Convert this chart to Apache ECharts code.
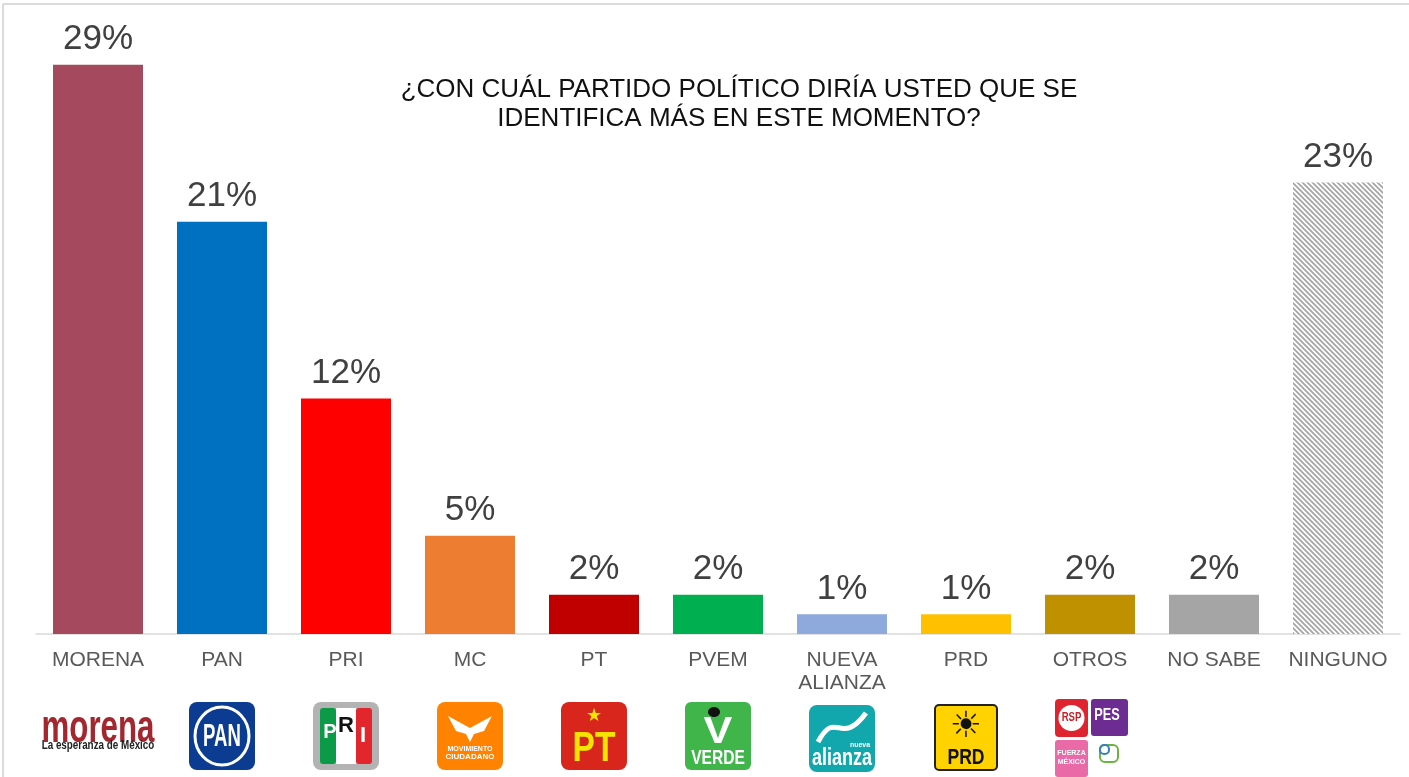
<!DOCTYPE html>
<html>
<head>
<meta charset="utf-8">
<script src="https://cdn.jsdelivr.net/npm/echarts@6/dist/echarts.min.js"></script>
<style>
  html, body { margin: 0; padding: 0; background: #fff; }
  #chart-container { width: 1409px; height: 777px; }
</style>
</head>
<body>
<div id="chart-container"></div>
<script>
// datos de la encuesta
const categories = ['MORENA', 'PAN', 'PRI', 'MC', 'PT', 'PVEM', 'NUEVA\nALIANZA', 'PRD', 'OTROS', 'NO SABE', 'NINGUNO'];
const values = [29, 21, 12, 5, 2, 2, 1, 1, 2, 2, 23];
const barColors = ['#A5495F', '#0070C0', '#FF0000', '#ED7D31', '#C00000', '#00B050', '#8EA9DB', '#FFC000', '#BF9000', '#A5A5A5', 'hatch'];
const titleText = '¿CON CUÁL PARTIDO POLÍTICO DIRÍA USTED QUE SE\nIDENTIFICA MÁS EN ESTE MOMENTO?';

const FONT = '"Liberation Sans", Arial, sans-serif';

// patrón rayado para NINGUNO
function hatchPattern() {
  const c = document.createElement('canvas');
  c.width = 5;
  c.height = 5;
  const ctx = c.getContext('2d');
  ctx.fillStyle = '#ffffff';
  ctx.fillRect(0, 0, 5, 5);
  ctx.strokeStyle = '#a6a6a6';
  ctx.lineWidth = 1.8;
  ctx.beginPath();
  ctx.moveTo(-1, -1); ctx.lineTo(6, 6);
  ctx.moveTo(-1, 4); ctx.lineTo(1, 6);
  ctx.moveTo(4, -1); ctx.lineTo(6, 1);
  ctx.stroke();
  return { image: c, repeat: 'repeat' };
}

const chart = echarts.init(document.getElementById('chart-container'));

const option = {
  backgroundColor: '#ffffff',
  animation: false,
  grid: { left: 36, right: 9, top: 45, height: 589 },
  xAxis: {
    type: 'category',
    data: categories,
    axisTick: { show: false },
    axisLine: { lineStyle: { color: '#d9d9d9', width: 1.5 } },
    axisLabel: {
      interval: 0,
      color: '#595959',
      fontSize: 21,
      lineHeight: 23,
      margin: 15,
      fontFamily: FONT
    }
  },
  yAxis: { type: 'value', min: 0, max: 30, show: false },
  series: [{
    type: 'bar',
    barWidth: 90,
    data: values.map((v, i) => ({
      value: v,
      itemStyle: { color: barColors[i] === 'hatch' ? hatchPattern() : barColors[i] }
    })),
    label: {
      show: true,
      position: 'top',
      distance: 8,
      formatter: '{c}%',
      color: '#404040',
      fontSize: 35,
      fontFamily: FONT
    }
  }]
};

chart.setOption(option);

// logos debajo de cada categoría
function t(x, y, text, size, fill, extra) {
  return Object.assign({
    type: 'text', x: x, y: y,
    style: { text: text, fontSize: size, fill: fill, fontWeight: 'bold', fontFamily: FONT, align: 'center', verticalAlign: 'middle' }
  }, extra || {});
}
function box(x, y, w, h, fill, r, extra) {
  return { type: 'rect', shape: { x: x, y: y, width: w, height: h, r: r }, style: Object.assign({ fill: fill }, extra || {}) };
}

function logos(cx) {
  const els = [];
  // morena
  els.push(t(cx[0], 729, 'morena', 46, '#a3272f', { scaleX: 0.68 }));
  els.push(t(cx[0], 746, 'La esperanza de México', 12, '#222', { scaleX: 0.82 }));
  // PAN
  els.push(box(cx[1] - 33, 702, 66, 68, '#0b3c92', 8));
  els.push({ type: 'ellipse', shape: { cx: cx[1], cy: 736, rx: 27, ry: 29 }, style: { fill: '#0b3c92', stroke: '#fff', lineWidth: 3 } });
  els.push(t(cx[1], 737, 'PAN', 32, '#fff', { scaleX: 0.58 }));
  // PRI
  els.push(box(cx[2] - 33, 702, 66, 68, '#b3b3b3', 8));
  els.push(box(cx[2] - 26, 708, 16, 56, '#0a9a48', 3));
  els.push(box(cx[2] - 10, 708, 20, 56, '#ffffff', 0));
  els.push(box(cx[2] + 10, 708, 16, 56, '#e3262d', 3));
  els.push(t(cx[2] - 16, 732, 'P', 20, '#fff'));
  els.push(t(cx[2], 726, 'R', 22, '#111'));
  els.push(t(cx[2] + 17, 736, 'I', 22, '#fff'));
  // MC
  els.push(box(cx[3] - 33, 702, 66, 68, '#ff8300', 8));
  els.push({
    type: 'polygon',
    shape: { points: [[cx[3] - 22, 716], [cx[3], 728], [cx[3] + 22, 716], [cx[3] + 14, 731], [cx[3] + 4, 734], [cx[3], 742], [cx[3] - 4, 734], [cx[3] - 14, 731]] },
    style: { fill: '#fff' }
  });
  els.push(t(cx[3], 749, 'MOVIMIENTO', 7, '#fff'));
  els.push(t(cx[3], 757, 'CIUDADANO', 8, '#fff'));
  // PT
  els.push(box(cx[4] - 33, 702, 66, 68, '#d8261d', 8));
  els.push({ type: 'text', x: cx[4], y: 716, style: { text: '★', fontSize: 18, fill: '#f5e400', fontFamily: '"DejaVu Sans"', align: 'center', verticalAlign: 'middle' } });
  els.push(t(cx[4], 749, 'PT', 42, '#f5e400', { scaleX: 0.8 }));
  // VERDE
  els.push(box(cx[5] - 33, 702, 66, 68, '#3fb54a', 6));
  els.push({ type: 'ellipse', shape: { cx: cx[5] - 4, cy: 712, rx: 6, ry: 5 }, style: { fill: '#111' } });
  els.push(t(cx[5], 733, 'V', 36, '#fff', { scaleX: 1.2 }));
  els.push(t(cx[5], 758, 'VERDE', 20, '#fff', { scaleX: 0.78 }));
  // NUEVA ALIANZA
  els.push(box(cx[6] - 33, 705, 66, 67, '#12a7ad', 8));
  els.push({
    type: 'bezierCurve',
    shape: { x1: cx[6] - 24, y1: 742, x2: cx[6] + 24, y2: 713, cpx1: cx[6] - 6, cpy1: 708, cpx2: cx[6] - 2, cpy2: 748 },
    style: { stroke: '#fff', lineWidth: 5, fill: null }
  });
  els.push(t(cx[6] + 18, 745, 'nueva', 7, '#fff'));
  els.push(t(cx[6], 758, 'alianza', 24, '#fff', { scaleX: 0.75 }));
  // PRD
  els.push(box(cx[7] - 31, 705, 62, 65, '#ffd200', 4, { stroke: '#222', lineWidth: 2 }));
  els.push({ type: 'text', x: cx[7], y: 728, style: { text: '☀', fontSize: 36, fill: '#111', fontFamily: '"DejaVu Sans"', align: 'center', verticalAlign: 'middle' } });
  els.push(t(cx[7], 758, 'PRD', 22, '#111', { scaleX: 0.8 }));
  // OTROS
  els.push(box(cx[8] - 35, 699, 33, 38, '#e0242f', 4));
  els.push({ type: 'circle', shape: { cx: cx[8] - 18.5, cy: 718, r: 13 }, style: { fill: '#fff' } });
  els.push(t(cx[8] - 18.5, 718, 'RSP', 12, '#c8202a', { scaleX: 0.8 }));
  els.push(box(cx[8] + 1, 699, 37, 37, '#6c2c91', 3));
  els.push(t(cx[8] + 17, 715, 'PES', 17, '#fff', { scaleX: 0.75 }));
  els.push(box(cx[8] - 35, 740, 33, 37, '#ea6aa7', 3));
  els.push(t(cx[8] - 18.5, 753, 'FUERZA', 7, '#fff'));
  els.push(t(cx[8] - 18.5, 762, 'MÉXICO', 7, '#fff'));
  els.push(box(cx[8] + 10, 745, 18, 17, 'none', 5, { stroke: '#6cb33f', lineWidth: 2 }));
  els.push(box(cx[8] + 10, 745, 9, 9, 'none', 4, { stroke: '#3a7fc1', lineWidth: 2 }));
  return els;
}

const centers = categories.map((c, i) => chart.convertToPixel({ xAxisIndex: 0 }, i));

chart.setOption({
  graphic: [
    // marco
    { type: 'line', shape: { x1: 3, y1: 4, x2: 1409, y2: 4 }, style: { stroke: '#cfcfcf', lineWidth: 1.5 } },
    { type: 'line', shape: { x1: 3, y1: 4, x2: 3, y2: 777 }, style: { stroke: '#cfcfcf', lineWidth: 1.5 } },
    // título
    {
      type: 'text', x: 739, y: 104,
      style: { text: titleText, fontSize: 26, lineHeight: 29, fill: '#111', fontFamily: FONT, align: 'center', verticalAlign: 'middle' }
    }
  ].concat(logos(centers))
});

window.addEventListener('resize', () => chart.resize());
</script>
</body>
</html>
